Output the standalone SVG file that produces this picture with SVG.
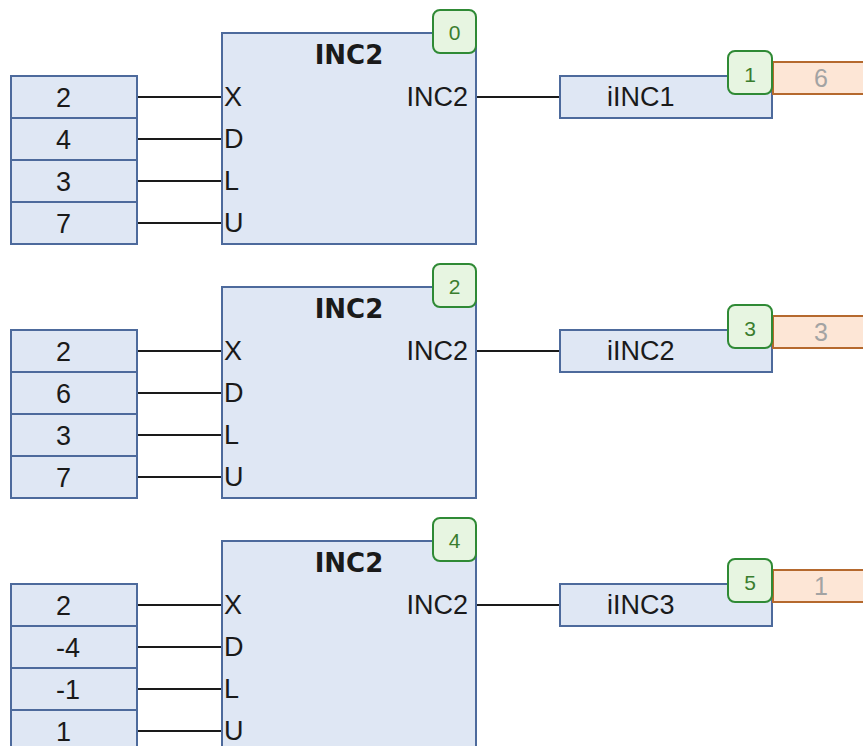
<svg xmlns="http://www.w3.org/2000/svg" width="863" height="746" viewBox="0 0 863 746">
<style>
text{font-family:"Liberation Sans",Arial,sans-serif;font-size:27px;fill:#1a1a1a}
.box{fill:#dfe7f4;stroke:#4d6a9c;stroke-width:2}
.badge{fill:#e7f5e1;stroke:#2f8a35;stroke-width:2}
.bt{font-size:21px;fill:#3a7d2e;text-anchor:middle}
.out{fill:#fde6d6;stroke:#b5692e;stroke-width:2}
.ot{fill:#a3a3a3;text-anchor:middle;font-size:25px}
.title{font-family:"DejaVu Sans",Verdana,sans-serif;font-size:26px;font-weight:bold;text-anchor:middle}
.wire{stroke:#1a1a1a;stroke-width:2;fill:none}
</style>
<rect width="863" height="746" fill="#ffffff"/>
<g id="connectors">
<path class="wire" d="M137 97H222M137 139H222M137 181H222M137 223H222M476 97H560"/>
<path class="wire" d="M137 351H222M137 393H222M137 435H222M137 477H222M476 351H560"/>
<path class="wire" d="M137 605H222M137 647H222M137 689H222M137 731H222M476 605H560"/>
</g>
<g id="inputs1">
<rect class="box" x="11" y="76" width="126" height="42"/>
<rect class="box" x="11" y="118" width="126" height="42"/>
<rect class="box" x="11" y="160" width="126" height="42"/>
<rect class="box" x="11" y="202" width="126" height="42"/>
<text x="56" y="107">2</text><text x="56" y="149">4</text><text x="56" y="191">3</text><text x="56" y="233">7</text>
</g>
<g id="block1">
<rect class="box" x="222" y="33" width="254" height="211"/>
<text class="title" x="349" y="64">INC2</text>
<text x="224" y="106">X</text><text x="224" y="148">D</text><text x="224" y="190">L</text><text x="224" y="232">U</text>
<text x="468" y="106" text-anchor="end">INC2</text>
<rect class="badge" x="433" y="10" width="43" height="43" rx="7"/>
<text class="bt" x="454.5" y="40">0</text>
</g>
<g id="output1">
<rect class="box" x="560" y="76" width="212" height="42"/>
<text x="607" y="106">iINC1</text>
<rect class="out" x="773" y="62" width="100" height="32"/>
<text class="ot" x="821" y="87">6</text>
<rect class="badge" x="728" y="51" width="44" height="43" rx="7"/>
<text class="bt" x="750" y="82">1</text>
</g>
<g id="inputs2">
<rect class="box" x="11" y="330" width="126" height="42"/>
<rect class="box" x="11" y="372" width="126" height="42"/>
<rect class="box" x="11" y="414" width="126" height="42"/>
<rect class="box" x="11" y="456" width="126" height="42"/>
<text x="56" y="361">2</text><text x="56" y="403">6</text><text x="56" y="445">3</text><text x="56" y="487">7</text>
</g>
<g id="block2">
<rect class="box" x="222" y="287" width="254" height="211"/>
<text class="title" x="349" y="318">INC2</text>
<text x="224" y="360">X</text><text x="224" y="402">D</text><text x="224" y="444">L</text><text x="224" y="486">U</text>
<text x="468" y="360" text-anchor="end">INC2</text>
<rect class="badge" x="433" y="264" width="43" height="43" rx="7"/>
<text class="bt" x="454.5" y="294">2</text>
</g>
<g id="output2">
<rect class="box" x="560" y="330" width="212" height="42"/>
<text x="607" y="360">iINC2</text>
<rect class="out" x="773" y="316" width="100" height="32"/>
<text class="ot" x="821" y="341">3</text>
<rect class="badge" x="728" y="305" width="44" height="43" rx="7"/>
<text class="bt" x="750" y="336">3</text>
</g>
<g id="inputs3">
<rect class="box" x="11" y="584" width="126" height="42"/>
<rect class="box" x="11" y="626" width="126" height="42"/>
<rect class="box" x="11" y="668" width="126" height="42"/>
<rect class="box" x="11" y="710" width="126" height="42"/>
<text x="56" y="615">2</text><text x="56" y="657">-4</text><text x="56" y="699">-1</text><text x="56" y="741">1</text>
</g>
<g id="block3">
<rect class="box" x="222" y="541" width="254" height="211"/>
<text class="title" x="349" y="572">INC2</text>
<text x="224" y="614">X</text><text x="224" y="656">D</text><text x="224" y="698">L</text><text x="224" y="740">U</text>
<text x="468" y="614" text-anchor="end">INC2</text>
<rect class="badge" x="433" y="518" width="43" height="43" rx="7"/>
<text class="bt" x="454.5" y="548">4</text>
</g>
<g id="output3">
<rect class="box" x="560" y="584" width="212" height="42"/>
<text x="607" y="614">iINC3</text>
<rect class="out" x="773" y="570" width="100" height="32"/>
<text class="ot" x="821" y="595">1</text>
<rect class="badge" x="728" y="559" width="44" height="43" rx="7"/>
<text class="bt" x="750" y="590">5</text>
</g>
</svg>
